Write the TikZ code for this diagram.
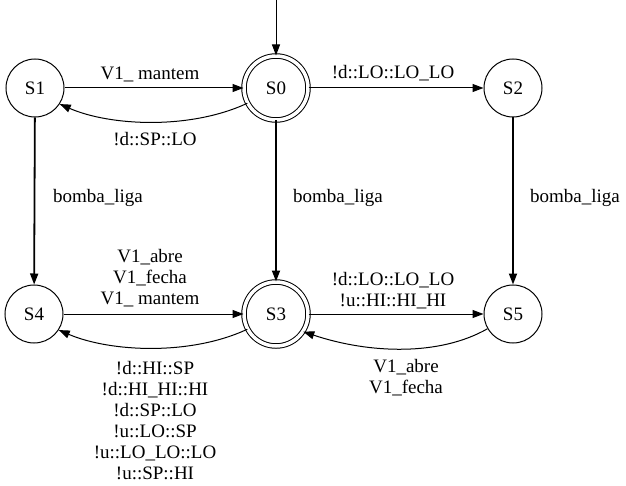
\documentclass[tikz,border=0pt]{standalone}
\usepackage{fontspec}
\setmainfont{Liberation Serif}
\usetikzlibrary{arrows.meta}
\begin{document}
\begin{tikzpicture}[x=1pt,y=-1pt,
  state/.style={circle,draw,line width=1pt,minimum size=58pt,inner sep=0pt,font=\fontsize{19}{22}\selectfont},
  accstate/.style={circle,draw,line width=1pt,double,double distance=3.5pt,minimum size=64pt,inner sep=0pt,font=\fontsize{19}{22}\selectfont},
  edge/.style={line width=1pt,-{Triangle[length=11pt,width=8pt]}},
  vedge/.style={line width=1.8pt,-{Triangle[length=11pt,width=8pt]}},
  lbl/.style={font=\fontsize{19}{21}\selectfont,align=center,inner sep=0pt}]
\useasboundingbox (0,0) rectangle (626,486);
\node[state] (S1) at (35,88) {S1};
\node[accstate] (S0) at (276,88) {S0};
\node[state] (S2) at (513,88) {S2};
\node[state] (S4) at (34,314) {S4};
\node[accstate] (S3) at (276,314) {S3};
\node[state] (S5) at (513,314) {S5};
\coordinate (init) at (276,0);
\draw[edge] (init) -- (S0);
\draw[edge] (S1) -- (S0);
\draw[edge] (S0.208) .. controls (190,130) and (110,126) .. (S1.-33);
\draw[edge] (S0) -- (S2);
\draw[vedge] (S1) -- (S4);
\draw[vedge] (S0) -- (S3);
\draw[vedge] (S2) -- (S5);
\draw[edge] (S4) -- (S3);
\draw[edge] (S3.208) .. controls (190,356) and (110,352) .. (S4.-33);
\draw[edge] (S3) -- (S5);
\draw[edge] (S5.210) .. controls (440,356) and (370,354) .. (S3.-33);
\node[lbl] (l1) at (150,74) {V1\_ mantem};
\node[lbl] (l2) at (155,139) {!d::SP::LO};
\node[lbl] (l3) at (393,73) {!d::LO::LO\_LO};
\node[lbl] (l4) at (98,198) {bomba\_liga};
\node[lbl] (l5) at (338,198) {bomba\_liga};
\node[lbl] (l6) at (575,198) {bomba\_liga};
\node[lbl] (l7) at (150,278) {V1\_abre\\V1\_fecha\\V1\_ mantem};
\node[lbl] (l8) at (155,421) {!d::HI::SP\\!d::HI\_HI::HI\\!d::SP::LO\\!u::LO::SP\\!u::LO\_LO::LO\\!u::SP::HI};
\node[lbl] (l9) at (393,291) {!d::LO::LO\_LO\\!u::HI::HI\_HI};
\node[lbl] (l10) at (406,378) {V1\_abre\\V1\_fecha};
\end{tikzpicture}
\end{document}
